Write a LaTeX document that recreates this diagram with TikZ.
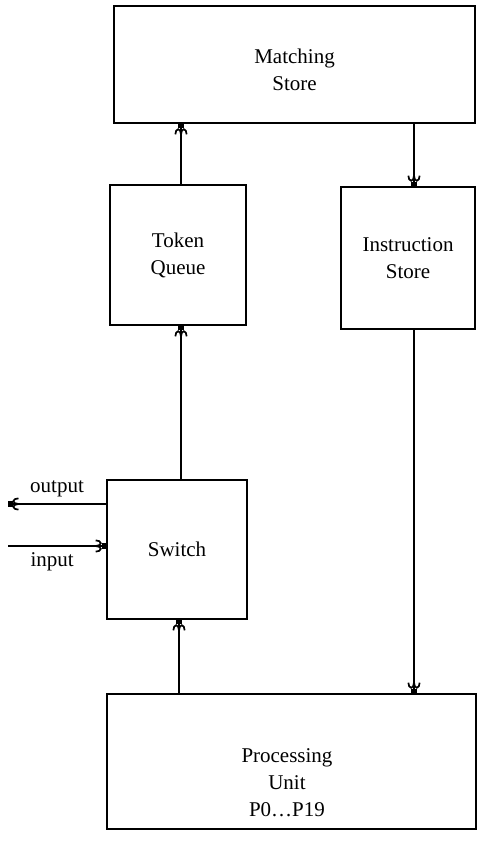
\documentclass[tikz,border=0pt]{standalone}
\usepackage{fontspec}
\setmainfont{Liberation Serif}
\usetikzlibrary{arrows.meta}
\begin{document}
\begin{tikzpicture}[x=1pt,y=-1pt,
  txt/.style={font=\fontsize{21}{27}\selectfont},
  blk/.style={draw,line width=1.7pt,inner sep=0pt,align=center,txt},
  flow/.style={line width=1.4pt,-{Hooks[width=13pt,length=6pt,line width=1.7pt]Rectangle[length=4.5pt,width=6.5pt]}}]
\useasboundingbox (0,0) rectangle (497,860);
\node[blk,minimum width=361pt,minimum height=117pt] (ms) at (294.5,64.5) {};
\node[txt,align=center] (mst) at (294.5,70) {Matching\\Store};
\node[blk,minimum width=136pt,minimum height=140pt] (tq) at (178,255) {Token\\Queue};
\node[blk,minimum width=134pt,minimum height=142pt] (is) at (408,258) {Instruction\\Store};
\node[blk,minimum width=140pt,minimum height=139pt] (sw) at (177,549.5) {Switch};
\node[blk,minimum width=369pt,minimum height=135pt] (pu) at (291.5,761.5) {};
\node[txt,align=center] (put) at (287,783) {Processing\\Unit\\P0\ldots P19};
\coordinate (outend) at (8,504);
\coordinate (inbeg) at (8,546);
\draw[flow] (sw.north -| 181,0) -- (tq.south -| 181,0);
\draw[flow] (tq.north -| 181,0) -- (ms.south -| 181,0);
\draw[flow] (ms.south -| 414,0) -- (is.north -| 414,0);
\draw[flow] (is.south -| 414,0) -- (pu.north -| 414,0);
\draw[flow] (pu.north -| 179,0) -- (sw.south -| 179,0);
\draw[flow] (sw.west |- outend) -- (outend) node[pos=0.5,above=3pt,txt]{output};
\draw[flow] (inbeg) -- (sw.west |- inbeg) node[pos=0.45,below=3pt,txt]{input};
\end{tikzpicture}
\end{document}
